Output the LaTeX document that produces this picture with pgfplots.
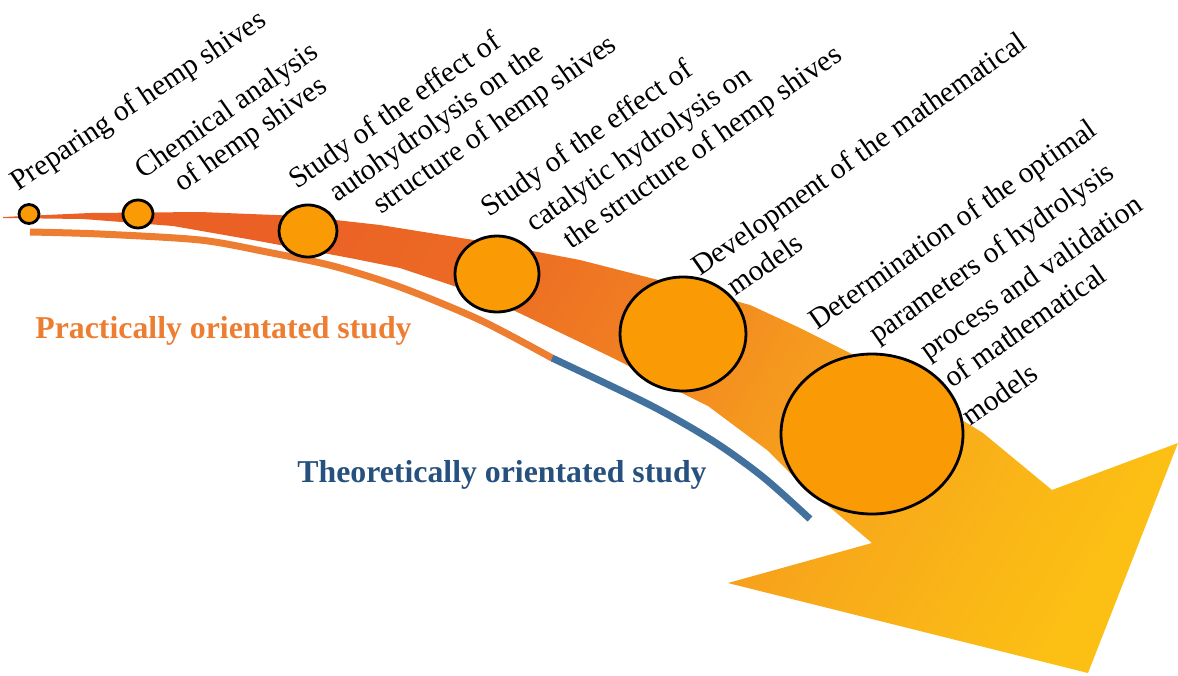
\documentclass[border=0pt]{standalone}
\usepackage{pgfplots}
\pgfplotsset{compat=1.18}
\usepackage{fontspec}
\setmainfont{Liberation Serif}
\definecolor{bandA}{RGB}{234,96,37}
\definecolor{bandB}{RGB}{236,106,36}
\definecolor{bandC}{RGB}{240,124,34}
\definecolor{bandD}{RGB}{245,152,30}
\definecolor{bandF}{RGB}{248,170,26}
\definecolor{bandE}{RGB}{252,192,20}
\definecolor{bubble}{RGB}{250,154,4}
\definecolor{practical}{RGB}{237,125,49}
\definecolor{theortext}{RGB}{38,80,125}
\definecolor{theorline}{RGB}{65,113,156}
\pgfdeclarehorizontalshading{bandshade}{100bp}{color(0bp)=(bandA); color(28bp)=(bandA); color(40bp)=(bandB); color(48bp)=(bandC); color(57bp)=(bandD); color(65bp)=(bandF); color(78bp)=(bandE); color(100bp)=(bandE)}
\begin{document}
\begin{tikzpicture}
\begin{axis}[width=589pt, height=337.5pt, scale only axis,
  xmin=0, xmax=1178, ymin=0, ymax=675, y dir=reverse,
  hide axis, clip=false]
% curved arrow band
\addplot[draw=none, shading=bandshade, shading angle=-30]
coordinates {
(3,217) (90,213) (200,212) (300,216) (380,225) (480,241) (580,260) (670,283)
(750,305) (800,328) (850,353) (920,394) (983,433) (1052,490)
(1178,443) (1088,673) (728,583) (872,543)
(833,510) (800,483) (767,450) (708,406) (660,382) (613,358) (513,310)
(460,288) (400,268) (350,258) (253,240) (173,226) (83,219) (3,218)} -- cycle;
% practically orientated line
\addplot[practical, line width=3.5pt, smooth] coordinates {
(30,232) (100,234) (200,240) (267,252) (333,266) (400,287) (480,320) (552,358)};
% theoretically orientated line
\addplot[theorline, line width=3.5pt, smooth] coordinates {
(552,358) (650,405) (713,441) (763,477) (810,519)};
% bubbles
\addplot[scatter, only marks, mark=*,
  mark options={draw=black, fill=bubble, line width=1.4pt, solid},
  visualization depends on={\thisrow{rx}*0.5 \as \rx},
  visualization depends on={\thisrow{ry}/\thisrow{rx} \as \ys},
  scatter/@pre marker code/.code={\edef\tmp{\noexpand\scope[mark size=\rx pt, yscale=\ys]}\tmp},
  scatter/@post marker code/.code={\endscope}]
table {
x y rx ry
29 214 10 9.5
138 214 15 14
308 231 29 26
497 274 42 38
683 334 63 57
872 434 91 80
};
% labels
\begin{scope}[every node/.style={rotate=35, anchor=base west, inner sep=0pt, font=\fontsize{14.75}{17}\selectfont}]
\node[rotate=-1.2] at (axis cs:18,192) {Preparing of hemp shives};
\node at (axis cs:143,180) {Chemical analysis};
\node at (axis cs:182,193) {of hemp shives};
\node at (axis cs:297,190) {Study of the effect of};
\node at (axis cs:337,203) {autohydrolysis on the};
\node at (axis cs:381,215) {structure of hemp shives};
\node at (axis cs:489,218) {Study of the effect of};
\node at (axis cs:534,233) {catalytic hydrolysis on};
\node at (axis cs:571,250) {the structure of hemp shives};
\node at (axis cs:700,277) {Development of the mathematical};
\node at (axis cs:735,297) {models};
\node at (axis cs:817,331) {Determination of the optimal};
\node at (axis cs:877,344) {parameters of hydrolysis};
\node at (axis cs:928,361) {process and validation};
\node at (axis cs:952,389) {of mathematical};
\node at (axis cs:970,427) {models};
\end{scope}
\node[anchor=base west, inner sep=0pt, text=practical, font=\fontsize{15.9}{18}\selectfont\bfseries] at (axis cs:35,338) {Practically orientated study};
\node[anchor=base west, inner sep=0pt, text=theortext, font=\fontsize{15.9}{18}\selectfont\bfseries] at (axis cs:297,482) {Theoretically orientated study};
\end{axis}
\pgfresetboundingbox
\path (current axis.south west) rectangle (current axis.north east);
\end{tikzpicture}
\end{document}
